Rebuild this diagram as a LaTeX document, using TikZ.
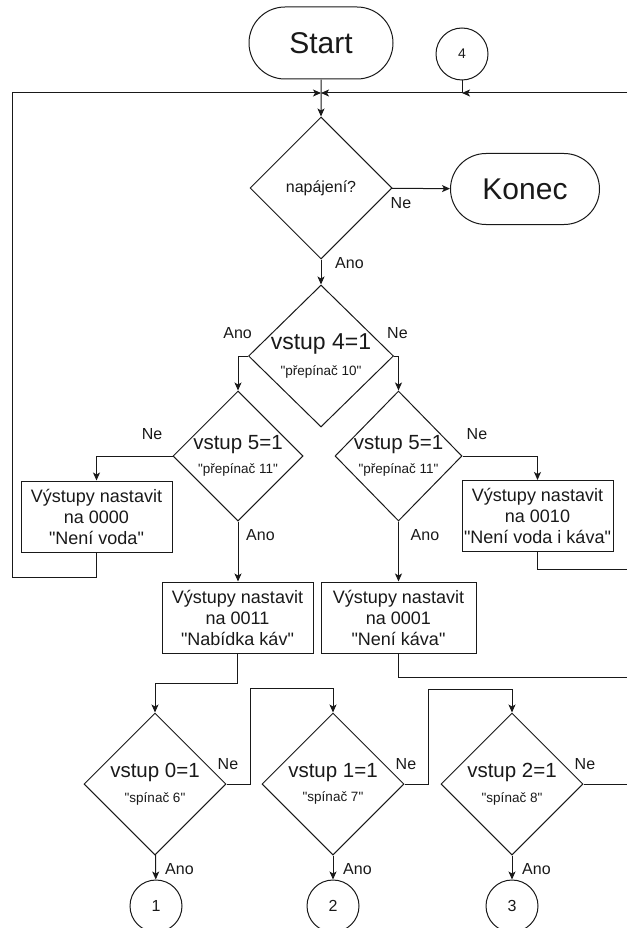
\documentclass[tikz,border=0pt]{standalone}
\usepackage{fontspec}
\setmainfont{Liberation Sans}[Ligatures=TeXOff]
\usepackage{tikz}
\usetikzlibrary{
  shapes.geometric, shapes.misc,
  arrows.meta,
  positioning, calc
}
\definecolor{inkgray}{RGB}{25,25,25}
\newcommand{\setfs}[2]{\fontsize{#1}{#2}\selectfont}
\tikzset{
  basebox/.style={draw=inkgray,line width=1pt,align=center,text=inkgray,inner sep=0pt},
  termnode/.style={basebox,rounded rectangle,minimum width=144pt,minimum height=72pt,font=\setfs{30}{34}},
  procnode/.style={basebox,rectangle,minimum width=151pt,minimum height=71pt,font=\setfs{18}{21}},
  decnode/.style={basebox,diamond,inner xsep=-30pt,minimum width=142pt,minimum height=142pt,font=\setfs{13.5}{24.5}},
  topdec/.style={decnode,font=\setfs{13.5}{26.5}},
  connode/.style={basebox,circle,minimum size=52pt,font=\setfs{16}{18}},
  lbl/.style={inner sep=0pt,text=inkgray,font=\setfs{16}{18}},
  arr/.style={-{Stealth[length=8pt,width=7pt,inset=2pt]},line width=1pt,color=inkgray},
  ln/.style={line width=1pt,color=inkgray}
}

\begin{document}
\begin{tikzpicture}[x=1pt,y=-1pt]
  \useasboundingbox (0,0) rectangle (627,928);

  %% Top: start, power check, end
  \node[termnode] (S) at (321,43) {Start};
  \node[connode,font=\setfs{14}{16}] (K4) at (462,54) {4};
  \node[decnode,font=\setfs{16}{18}] (P) at (321,188) {napájení?};
  \node[termnode,minimum width=149pt,minimum height=71pt] (E) at (525,189) {Konec};

  %% Inputs 4 and 5
  \node[topdec,minimum width=145pt] (D4) at (321,356) {{\setfs{23}{26.5}vstup 4=1}\\"přepínač 10"};
  \node[decnode,minimum width=130pt,minimum height=130pt] (D5a) at (238,456) {{\setfs{20.5}{24.5}vstup 5=1}\\"přepínač 11"};
  \node[decnode,minimum width=127pt,minimum height=130pt] (D5b) at (398.5,456) {{\setfs{20.5}{24.5}vstup 5=1}\\"přepínač 11"};

  %% Outputs
  \node[procnode] (B0) at (96.5,516.5) {Výstupy nastavit\\na 0000\\"Není voda"};
  \node[procnode] (B2) at (537.5,516) {Výstupy nastavit\\na 0010\\"Není voda i káva"};
  \node[procnode] (B3) at (237.5,617.5) {Výstupy nastavit\\na 0011\\"Nabídka káv"};
  \node[procnode,minimum width=155pt] (B1) at (398.5,617.5) {Výstupy nastavit\\na 0001\\"Není káva"};

  %% Switches
  \node[decnode] (V0) at (155,784) {{\setfs{20.5}{24.5}vstup 0=1}\\"spínač 6"};
  \node[decnode] (V1) at (333,784) {{\setfs{20.5}{24.5}vstup 1=1}\\"spínač 7"};
  \node[decnode] (V2) at (512,784) {{\setfs{20.5}{24.5}vstup 2=1}\\"spínač 8"};
  \node[connode] (K1) at (156,906) {1};
  \node[connode] (K2) at (333,906) {2};
  \node[connode] (K3) at (512,906) {3};

  %% Helper points
  \coordinate (J) at (S.south |- 0,93);
  \coordinate (J4) at (K4.south |- J);
  \coordinate (L) at (12,93);
  \coordinate (R4) at (627,93);
  \coordinate (R2) at (627,569);
  \coordinate (R1) at (627,677);
  \coordinate (RV) at (V2.east -| R4);

  %% Flow
  \draw[arr] (S) -- (P);
  \draw[arr] (K4.south) |- (J);
  \draw[arr] (R4) -- (J4);
  \draw[arr] (B0.south) -- ++(0,25) -| (L) -- (J);
  \draw[arr] (P) -- (E);
  \draw[arr] (P) -- (D4);
  \draw[arr] (D4.west) -| (D5a.north);
  \draw[arr] (D4.east) -| (D5b.north);
  \draw[arr] (D5a.west) -| (B0.north);
  \draw[arr] (D5b.east) -| (B2.north);
  \draw[arr] (D5a.south) -- (D5a.south |- B3.north);
  \draw[arr] (D5b.south) -- (D5b.south |- B1.north);
  \draw[ln] (B2.south) |- (R2);
  \draw[ln] (B1.south) |- (R1);
  \draw[arr] (B3.south) -- ++(0,30) -| (V0.north);
  \draw[arr] (V0.east) -- ++(24,0) -- ++(0,-96) -| (V1.north);
  \draw[arr] (V1.east) -- ++(24,0) -- ++(0,-95) -| (V2.north);
  \draw[ln] (V2.east) -- (RV);
  \draw[arr] (V0) -- (K1);
  \draw[arr] (V1) -- (K2);
  \draw[arr] (V2) -- (K3);

  %% Labels
  \node[lbl,anchor=west] (nP) at ($(P.east)+(-2,15)$) {Ne};
  \node[lbl,anchor=west] (aP) at ($(P.south)+(14,4)$) {Ano};
  \node[lbl,anchor=east] (a4) at ($(D4.west)+(4,-23)$) {Ano};
  \node[lbl,anchor=west] (n4) at ($(D4.east)+(-7,-23)$) {Ne};
  \node[lbl,anchor=east] (n5a) at ($(D5a.west)+(-10,-22)$) {Ne};
  \node[lbl,anchor=west] (a5a) at ($(D5a.south)+(8,14)$) {Ano};
  \node[lbl,anchor=west] (n5b) at ($(D5b.east)+(4,-22)$) {Ne};
  \node[lbl,anchor=west] (a5b) at ($(D5b.south)+(12,14)$) {Ano};
  \foreach \v in {V0,V1,V2}{
    \node[lbl,anchor=west] (n\v) at ($(\v.east)+(-9,-20)$) {Ne};
    \node[lbl,anchor=west] (a\v) at ($(\v.south)+(10,14)$) {Ano};
  }
\end{tikzpicture}
\end{document}
